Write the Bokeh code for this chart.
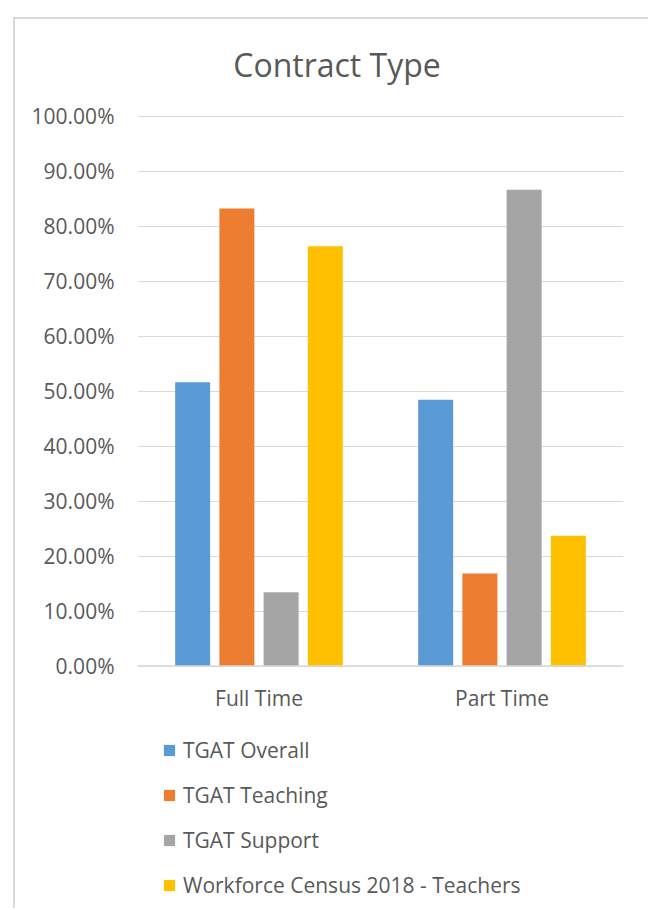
from bokeh.plotting import figure
from bokeh.models import (ColumnDataSource, FactorRange, Range1d, FixedTicker,
                          NumeralTickFormatter, Legend, LegendItem, Span, Label)
from bokeh.transform import dodge
from bokeh.core.properties import value
from bokeh.embed import file_html
from bokeh.resources import INLINE

title_text = "Contract Type"
categories = ["Full Time", "Part Time"]
series_names = ["TGAT Overall", "TGAT Teaching", "TGAT Support",
                "Workforce Census 2018 - Teachers"]
tgat_overall = [0.516, 0.484]
tgat_teaching = [0.832, 0.168]
tgat_support = [0.134, 0.866]
census_teachers = [0.763, 0.237]
y_ticks = [0.0, 0.1, 0.2, 0.3, 0.4, 0.5, 0.6, 0.7, 0.8, 0.9, 1.0]

colors = ["#5B9BD5", "#ED7D31", "#A5A5A5", "#FFC000"]
offsets = [-0.273, -0.091, 0.091, 0.273]
FONT = "Open Sans"
TXT = "#595959"

source = ColumnDataSource(dict(cat=categories, s0=tgat_overall, s1=tgat_teaching,
                               s2=tgat_support, s3=census_teachers))

# frame spans the whole card so title, category labels and legend sit inside it
p = figure(width=635, height=891, x_range=FactorRange(factors=categories),
           y_range=Range1d(-0.43545, 1.1664), output_backend="svg",
           toolbar_location=None, min_border_left=122, min_border_right=27,
           min_border_top=5, min_border_bottom=5)
p.styles = {"margin-left": "13px", "margin-top": "17px",
            "border-left": "2px solid #d9d9d9", "border-top": "2px solid #d9d9d9"}

renderers = []
for i, col in enumerate(["s0", "s1", "s2", "s3"]):
    r = p.vbar(x=dodge("cat", offsets[i], range=p.x_range), top=col, width=0.144,
               bottom=0, source=source, fill_color=colors[i], line_color=None)
    renderers.append(r)

# baseline (category axis line)
p.add_layout(Span(location=0, dimension="width", line_color="#d9d9d9", line_width=1.5))

# category labels
p.text(x=categories, y=[-0.0575] * len(categories), text=categories,
       text_font=value(FONT), text_font_size="21px", text_color=TXT,
       text_align="center", text_baseline="alphabetic")

# chart title
p.add_layout(Label(x=0.821, y=1.0936, text=title_text, text_font=FONT,
                   text_font_size="32px", text_color=TXT, text_align="center",
                   text_baseline="alphabetic"))

p.outline_line_color = None
p.xaxis.visible = False
p.xgrid.grid_line_color = None
p.ygrid.ticker = FixedTicker(ticks=y_ticks)
p.ygrid.grid_line_color = "#d9d9d9"
p.ygrid.grid_line_width = 1
p.yaxis.ticker = FixedTicker(ticks=y_ticks)
p.yaxis.formatter = NumeralTickFormatter(format="0.00%")
p.yaxis.axis_line_color = None
p.yaxis.major_tick_line_color = None
p.yaxis.minor_tick_line_color = None
p.yaxis.major_label_standoff = 17
p.yaxis.major_label_text_font = FONT
p.yaxis.major_label_text_font_size = "21px"
p.yaxis.major_label_text_color = TXT

items = [LegendItem(label=series_names[i], renderers=[renderers[i]]) for i in range(4)]
legend = Legend(items=items, location=(25, 6), orientation="vertical",
                padding=0, margin=0, spacing=17, glyph_width=14, glyph_height=14,
                label_standoff=7, label_height=28, border_line_color=None,
                background_fill_alpha=0, label_text_font=FONT,
                label_text_font_size="21px", label_text_color=TXT)
p.add_layout(legend, "center")

open("out.html", "w").write(file_html(p, INLINE))
